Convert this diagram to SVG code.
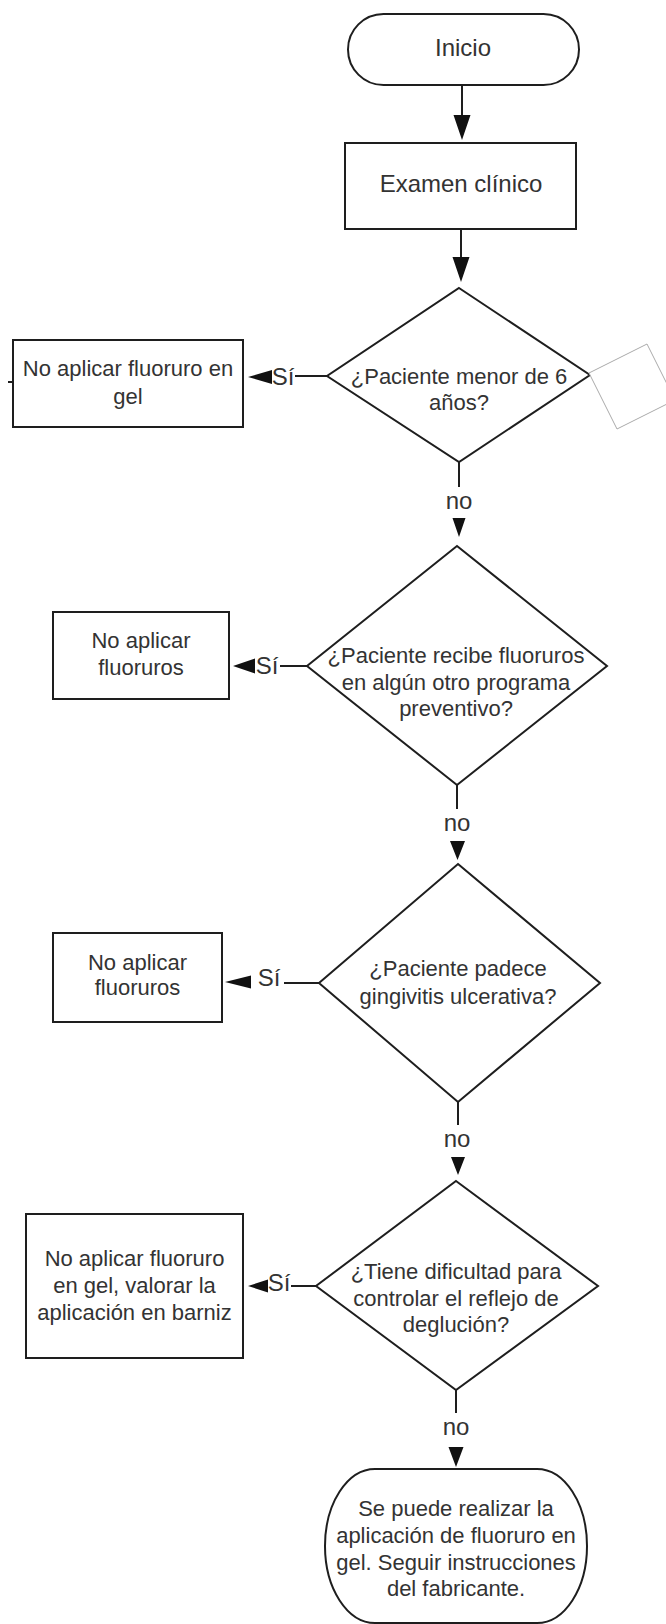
<svg xmlns="http://www.w3.org/2000/svg" width="666" height="1624" viewBox="0 0 666 1624">
<style>
.s{fill:#fff;stroke:#1e1e1e;stroke-width:2}
.t{font-family:"Liberation Sans",Arial,sans-serif;font-size:22px;fill:#333;text-anchor:middle}
.b{font-size:24px}
.c{fill:none;stroke:#1e1e1e;stroke-width:2}
.h{fill:#111;stroke:none}
</style>
<rect width="666" height="1624" fill="#fff"/>
<g id="connectors">
<path class="c" d="M462 85V118M461 229V260"/>
<path class="h" d="M453.5 115H470.5L462 140ZM452.5 257H469.5L461 282Z"/>
<path class="c" d="M459 462V487M457 785V809M458 1102V1125M456 1390V1413"/>
<path class="h" d="M452.5 518H465.5L459 537ZM450 841H465L457.5 860ZM451 1157H465L458 1175ZM448.5 1447H463.5L456 1467Z"/>
<path class="c" d="M295 376H327M280 666H307M284 983H319M291 1286H316M8 382H13"/>
<path class="h" d="M248 377L272 370V384ZM233 666L255 658.5V673.5ZM225 982L251 975.5V988.5ZM248 1286L268 1279.5V1292.5Z"/>
<text class="t b" x="459" y="509">no</text>
<text class="t b" x="457" y="831">no</text>
<text class="t b" x="457" y="1147">no</text>
<text class="t b" x="456" y="1435">no</text>
<text class="t b" x="283" y="385">Sí</text>
<text class="t b" x="267" y="674">Sí</text>
<text class="t b" x="269" y="986">Sí</text>
<text class="t b" x="279" y="1291">Sí</text>
</g>
<g id="inicio">
<rect class="s" x="348" y="14" width="231" height="71" rx="35.5"/>
<text class="t b" x="463" y="56">Inicio</text>
</g>
<g id="examen">
<rect class="s" x="345" y="143" width="231" height="86"/>
<text class="t b" x="461" y="192">Examen clínico</text>
</g>
<g id="d1">
<polygon class="s" points="459,288 590,375 459,462 327,376"/>
<text class="t" x="459" y="384">¿Paciente menor de 6</text>
<text class="t" x="459" y="410">años?</text>
</g>
<g id="blank">
<polygon points="589,373 647,344 675,400 617,429" fill="#fff" stroke="#aaa" stroke-width="1"/>
</g>
<g id="r1">
<rect class="s" x="13" y="340" width="230" height="87"/>
<text class="t" x="128" y="376">No aplicar fluoruro en</text>
<text class="t" x="128" y="404">gel</text>
</g>
<g id="d2">
<polygon class="s" points="457,546 607,666 457,785 307,666"/>
<text class="t" x="456" y="663">¿Paciente recibe fluoruros</text>
<text class="t" x="456" y="690">en algún otro programa</text>
<text class="t" x="456" y="716">preventivo?</text>
</g>
<g id="r2">
<rect class="s" x="53" y="612" width="176" height="87"/>
<text class="t" x="141" y="648">No aplicar</text>
<text class="t" x="141" y="675">fluoruros</text>
</g>
<g id="d3">
<polygon class="s" points="458,864 600,983 458,1102 319,983"/>
<text class="t" x="458" y="976">¿Paciente padece</text>
<text class="t" x="458" y="1004">gingivitis ulcerativa?</text>
</g>
<g id="r3">
<rect class="s" x="53" y="933" width="169" height="89"/>
<text class="t" x="137.5" y="970">No aplicar</text>
<text class="t" x="137.5" y="995">fluoruros</text>
</g>
<g id="d4">
<polygon class="s" points="456,1181 598,1286 456,1390 316,1286"/>
<text class="t" x="456" y="1279">¿Tiene dificultad para</text>
<text class="t" x="456" y="1306">controlar el reflejo de</text>
<text class="t" x="456" y="1332">deglución?</text>
</g>
<g id="r4">
<rect class="s" x="26" y="1214" width="217" height="144"/>
<text class="t" x="134.5" y="1266">No aplicar fluoruro</text>
<text class="t" x="134.5" y="1293">en gel, valorar la</text>
<text class="t" x="134.5" y="1320">aplicación en barniz</text>
</g>
<g id="fin">
<rect class="s" x="325" y="1469" width="262" height="154" rx="50" ry="77"/>
<text class="t" x="456" y="1516">Se puede realizar la</text>
<text class="t" x="456" y="1543">aplicación de fluoruro en</text>
<text class="t" x="456" y="1570">gel. Seguir instrucciones</text>
<text class="t" x="456" y="1596">del fabricante.</text>
</g>
</svg>
